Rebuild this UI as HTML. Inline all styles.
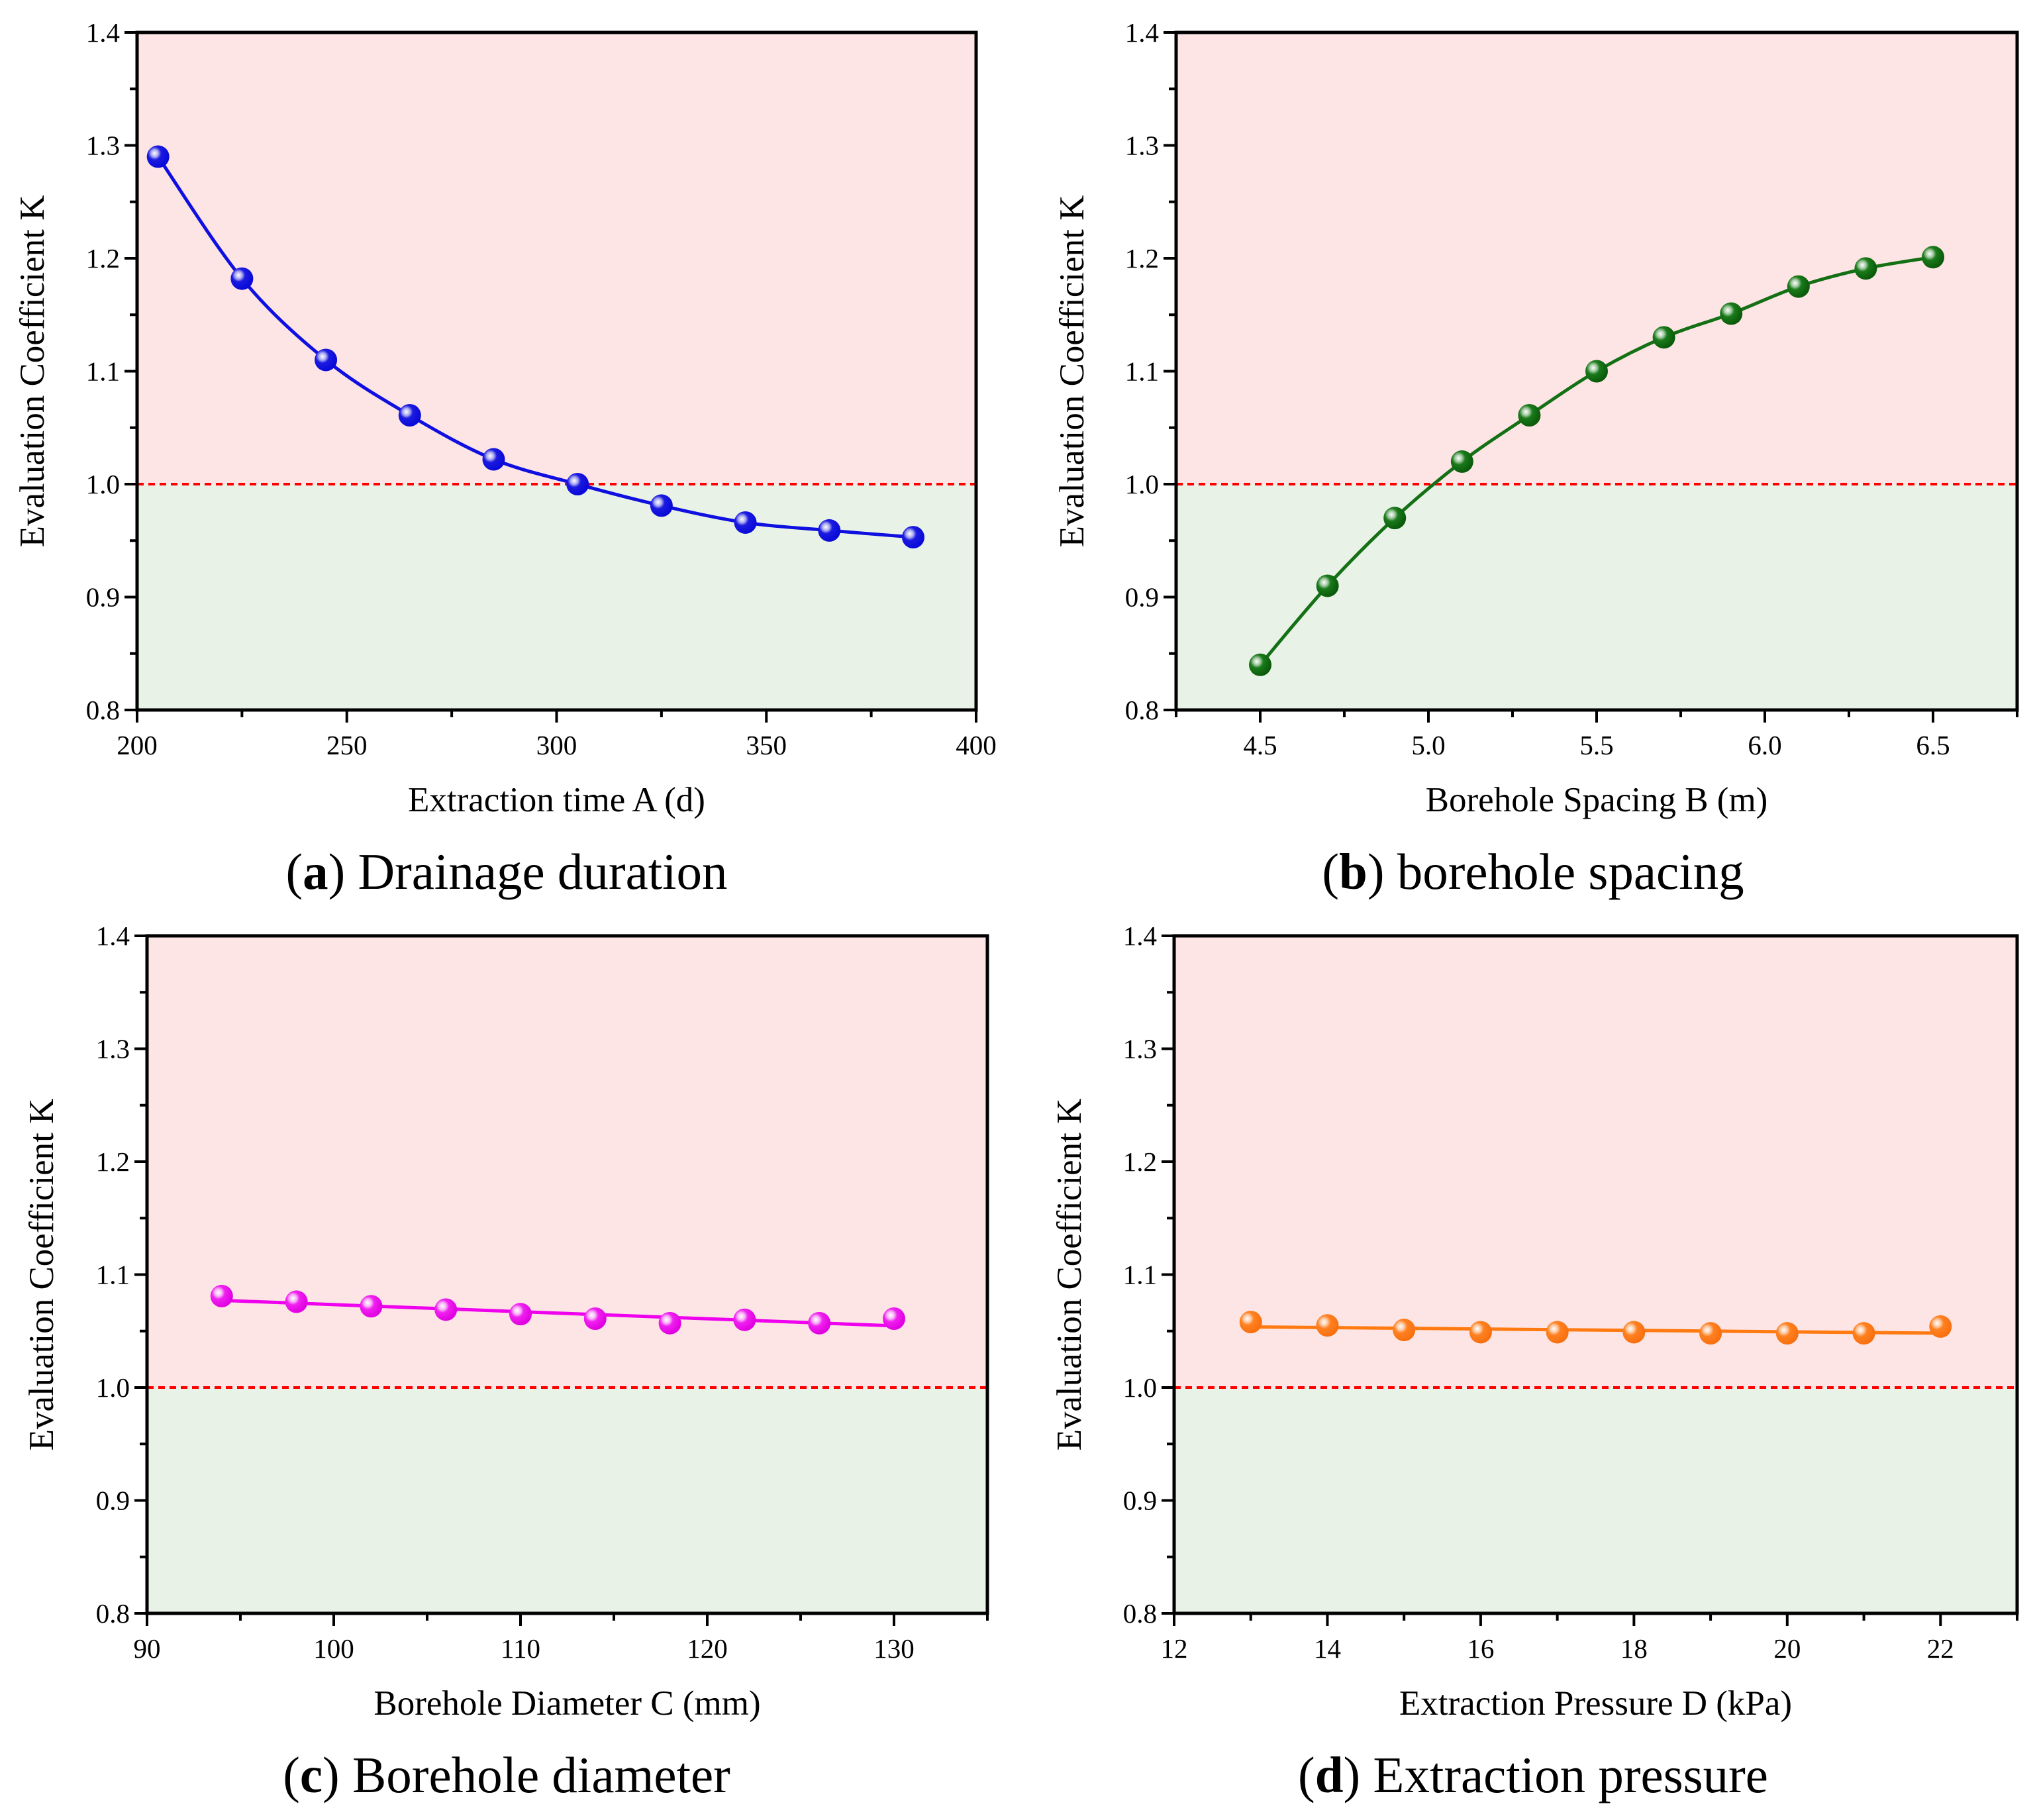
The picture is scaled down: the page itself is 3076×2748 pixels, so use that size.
<!DOCTYPE html>
<html><head><meta charset="utf-8"><style>
html,body{margin:0;padding:0;background:#fff;}
svg{display:block;font-family:"Liberation Serif",serif;}
</style></head><body>
<svg id="fig" width="3076" height="2748" viewBox="0 0 3076 2748" xmlns="http://www.w3.org/2000/svg">
<defs>
<radialGradient id="gA" cx="0.35" cy="0.35" r="0.65"><stop offset="0" stop-color="#ffffff"/><stop offset="0.25" stop-color="#a8a8f0"/><stop offset="0.45" stop-color="#1a1ae0"/><stop offset="1" stop-color="#0a0ad8"/></radialGradient>
<radialGradient id="gB" cx="0.35" cy="0.35" r="0.65"><stop offset="0" stop-color="#ffffff"/><stop offset="0.25" stop-color="#a0c8a0"/><stop offset="0.45" stop-color="#1a7a1a"/><stop offset="1" stop-color="#0a5a0a"/></radialGradient>
<radialGradient id="gC" cx="0.35" cy="0.35" r="0.65"><stop offset="0" stop-color="#ffffff"/><stop offset="0.25" stop-color="#f8b0f8"/><stop offset="0.45" stop-color="#f020f0"/><stop offset="1" stop-color="#e000e0"/></radialGradient>
<radialGradient id="gD" cx="0.35" cy="0.35" r="0.65"><stop offset="0" stop-color="#ffffff"/><stop offset="0.25" stop-color="#fcc8a0"/><stop offset="0.45" stop-color="#ff8020"/><stop offset="1" stop-color="#f87010"/></radialGradient>
</defs>
</svg>
<script>
// Panel A
const xA = [205,225,245,265,285,305,325,345,365,385];
const yA = [1.290,1.182,1.110,1.061,1.022,1.000,0.981,0.966,0.959,0.953];
// Panel B
const xB = [4.5,4.7,4.9,5.1,5.3,5.5,5.7,5.9,6.1,6.3,6.5];
const yB = [0.840,0.910,0.970,1.020,1.061,1.100,1.130,1.151,1.175,1.191,1.201];
// Panel C
const xC = [94,98,102,106,110,114,118,122,126,130];
const yC = [1.081,1.076,1.072,1.069,1.065,1.061,1.057,1.060,1.057,1.061];
// Panel D
const xD = [13,14,15,16,17,18,19,20,21,22];
const yD = [1.058,1.055,1.051,1.049,1.049,1.049,1.048,1.048,1.048,1.054];
// Tick labels
const yTicks = ["0.8","0.9","1.0","1.1","1.2","1.3","1.4"];
const xTicksA = ["200","250","300","350","400"];
const xTicksB = ["4.5","5.0","5.5","6.0","6.5"];
const xTicksC = ["90","100","110","120","130"];
const xTicksD = ["12","14","16","18","20","22"];

const NS = "http://www.w3.org/2000/svg";
const svg = document.getElementById('fig');
function mk(tag, attrs, parent, text){
  const e = document.createElementNS(NS, tag);
  for (const k in attrs) e.setAttribute(k, attrs[k]);
  if (text !== undefined) e.textContent = text;
  (parent||svg).appendChild(e);
  return e;
}

const panels = [
 {id:'a', L:207,T:49,R:1474,B:1072, xmin:200,xmax:400, xt:xTicksA, minor:25, xs:xA, ys:yA, color:'#0f0fe0', grad:'gA', fit:'spline',
  xtitle:'Extraction time A (d)', cap:['a',' Drainage duration'], ylx:49, capx:765},
 {id:'b', L:1776,T:49,R:3046,B:1072, xmin:4.25,xmax:6.75, xt:xTicksB, minor:0.25, xs:xB, ys:yB, color:'#147014', grad:'gB', fit:'spline',
  xtitle:'Borehole Spacing B (m)', cap:['b',' borehole spacing'], ylx:1619, capx:2315},
 {id:'c', L:222,T:1413,R:1491,B:2436, xmin:90,xmax:135, xt:xTicksC, minor:5, xs:xC, ys:yC, color:'#ee00ee', grad:'gC', fit:'linear',
  xtitle:'Borehole Diameter C (mm)', cap:['c',' Borehole diameter'], ylx:63, capx:765},
 {id:'d', L:1773,T:1413,R:3046,B:2436, xmin:12,xmax:23, xt:xTicksD, minor:1, xs:xD, ys:yD, color:'#ff7a10', grad:'gD', fit:'linear',
  xtitle:'Extraction Pressure D (kPa)', cap:['d',' Extraction pressure'], ylx:1615, capx:2315}
];

panels.forEach(p=>{
  const g = mk('g',{});
  
  
  const sx = v => p.L + (v-p.xmin)/(p.xmax-p.xmin)*(p.R-p.L);
  const sy = v => p.B - (v-0.8)/(0.6)*(p.B-p.T);
  const y1 = sy(1.0);
  const pink = mk('rect',{x:p.L,y:p.T,width:p.R-p.L,height:y1-p.T,fill:'#fde5e5'},g);
  
  
  const green = mk('rect',{x:p.L,y:y1,width:p.R-p.L,height:p.B-y1,fill:'#e8f2e7'},g);
  
  
  const ref = mk('line',{x1:p.L,x2:p.R,y1:y1,y2:y1,stroke:'#ff0000','stroke-width':4,'stroke-dasharray':'10 7'},g);
  
  

  let d='';
  if (p.fit==='linear'){
    const n=p.xs.length; let mx=0,my=0; for(let i=0;i<n;i++){mx+=p.xs[i];my+=p.ys[i];} mx/=n;my/=n;
    let sxy=0,sxx=0; for(let i=0;i<n;i++){sxy+=(p.xs[i]-mx)*(p.ys[i]-my);sxx+=(p.xs[i]-mx)**2;}
    const b=sxy/sxx, a=my-b*mx;
    const x0=p.xs[0], x1=p.xs[n-1];
    d=`M${sx(x0)},${sy(a+b*x0)} L${sx(x1)},${sy(a+b*x1)}`;
  } else {
    const P=p.xs.map((x,i)=>[sx(x),sy(p.ys[i])]);
    d=`M${P[0][0]},${P[0][1]}`;
    for(let i=0;i<P.length-1;i++){
      const p0=P[Math.max(0,i-1)],p1=P[i],p2=P[i+1],p3=P[Math.min(P.length-1,i+2)];
      const c1=[p1[0]+(p2[0]-p0[0])/6,p1[1]+(p2[1]-p0[1])/6];
      const c2=[p2[0]-(p3[0]-p1[0])/6,p2[1]-(p3[1]-p1[1])/6];
      d+=` C${c1[0]},${c1[1]} ${c2[0]},${c2[1]} ${p2[0]},${p2[1]}`;
    }
  }
  const fl = mk('path',{d:d,fill:'none',stroke:p.color,'stroke-width':5},g);
  
  

  p.xs.forEach((x,i)=>{
    const c = mk('circle',{cx:sx(x),cy:sy(p.ys[i]),r:17,fill:'url(#'+p.grad+')'},g);
    
    
  });

  const fr = mk('rect',{x:p.L,y:p.T,width:p.R-p.L,height:p.B-p.T,fill:'none',stroke:'#000','stroke-width':5},g);
  
  

  for(let k=0;k<=12;k++){
    const v=0.8+k*0.05, yy=sy(v), len=(k%2===0)?19:11;
    mk('line',{x1:p.L-len,x2:p.L,y1:yy,y2:yy,stroke:'#000','stroke-width':4},g);
  }
  yTicks.forEach(t=>{
    const lb = mk('text',{x:p.L-26,y:sy(parseFloat(t))+14,'text-anchor':'end','font-size':41},g,t);
    
    
  });
  const nMinor=Math.round((p.xmax-p.xmin)/p.minor);
  for(let k=0;k<=nMinor;k++){
    const v=p.xmin+k*p.minor, xx=sx(v);
    const isMajor = p.xt.some(t=>Math.abs(parseFloat(t)-v)<1e-6);
    mk('line',{x1:xx,x2:xx,y1:p.B,y2:p.B+(isMajor?19:11),stroke:'#000','stroke-width':4},g);
  }
  p.xt.forEach(t=>{
    const lb = mk('text',{x:sx(parseFloat(t)),y:p.B+67,'text-anchor':'middle','font-size':41},g,t);
    
    
  });
  const xt = mk('text',{x:(p.L+p.R)/2,y:p.B+153,'text-anchor':'middle','font-size':53},g,p.xtitle);
  
  
  const yc=(p.T+p.B)/2;
  const yt = mk('text',{x:p.ylx+17,y:yc,'text-anchor':'middle','font-size':53,transform:`rotate(-90 ${p.ylx+17} ${yc})`},g,'Evaluation Coefficient K');
  
  
  const cap = mk('text',{x:p.capx,y:p.B+270,'text-anchor':'middle','font-size':77},g);
  
  
  mk('tspan',{},cap,'(');
  mk('tspan',{'font-weight':'bold'},cap,p.cap[0]);
  mk('tspan',{},cap,')'+p.cap[1]);
});
</script>
</body></html>
